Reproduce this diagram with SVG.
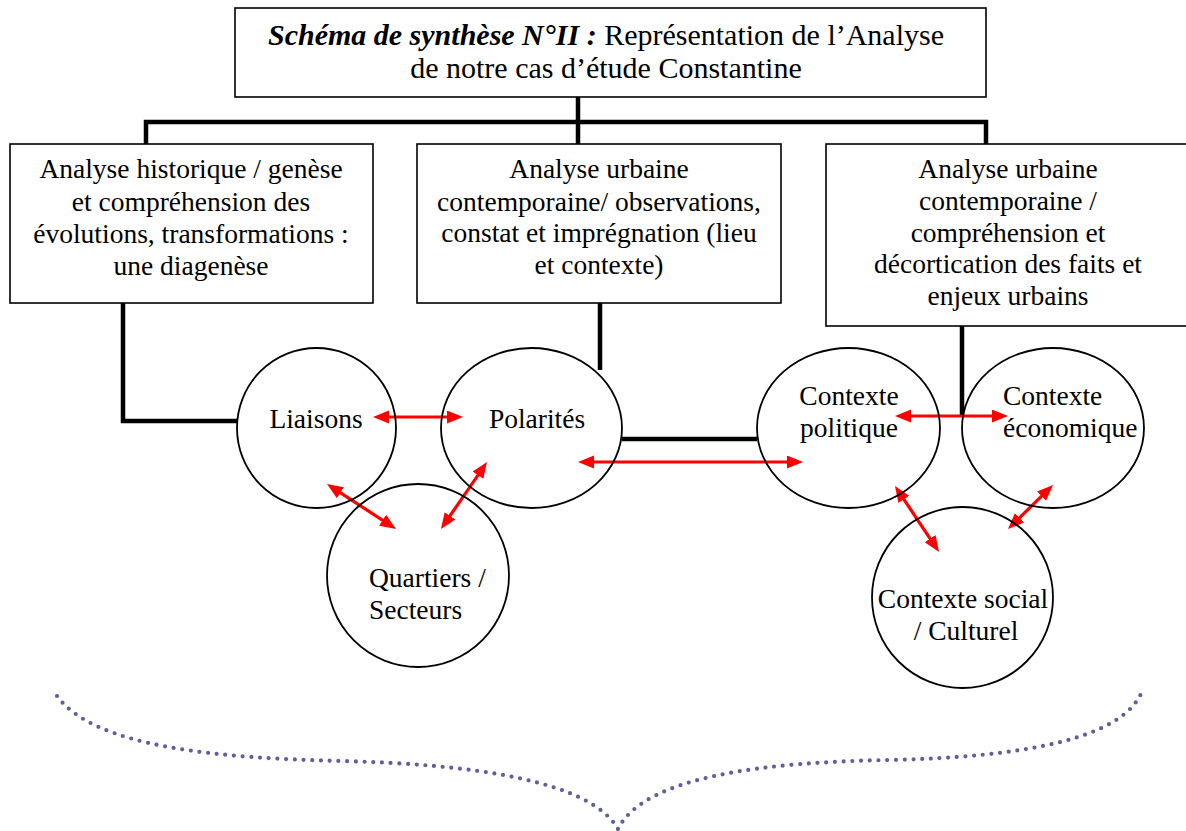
<svg xmlns="http://www.w3.org/2000/svg" width="1186" height="831" viewBox="0 0 1186 831">
  <style>
    text { font-family: "Liberation Serif", "Times New Roman", serif; fill: #000; }
    .t { font-size: 30px; }
    .b { font-size: 27.5px; text-anchor: middle; }
    .c { font-size: 27.5px; }
    .mid { text-anchor: middle; }
    .box { fill: #fff; stroke: #000; stroke-width: 1.6; }
    .node { fill: none; stroke: #000; stroke-width: 1.8; }
    .link { fill: none; stroke: #000; stroke-width: 4.5; stroke-linecap: butt; stroke-linejoin: miter; }
    .rel { stroke: #ff0000; stroke-width: 3.2; marker-start: url(#tip); marker-end: url(#tip); }
    .brace { fill: none; stroke: #5f5f9c; stroke-width: 4.2; stroke-linecap: round; stroke-dasharray: 0 8.7; }
  </style>
  <defs>
    <marker id="tip" markerUnits="userSpaceOnUse" markerWidth="18" markerHeight="14" refX="8" refY="6.5" orient="auto-start-reverse">
      <path d="M0,0 L16,6.5 L0,13 z" fill="#ff0000"/>
    </marker>
  </defs>

  <!-- black structural connectors -->
  <g id="connectors">
    <path class="link" d="M578,97 V144"/>
    <path class="link" d="M146,144 V122 H986 V144"/>
    <path class="link" d="M123,303 V421 H237"/>
    <path class="link" d="M600,303 V370"/>
    <path class="link" d="M962,326 V415"/>
    <path class="link" d="M622,439 H757"/>

    <!-- red two-way relations -->
    <line class="rel" x1="381" y1="417" x2="455" y2="417"/>
    <line class="rel" x1="586" y1="462" x2="795" y2="462"/>
    <line class="rel" x1="333.7" y1="488.4" x2="389.3" y2="524.6"/>
    <line class="rel" x1="482.5" y1="468.6" x2="445.5" y2="522.4"/>
    <line class="rel" x1="903" y1="416" x2="1000" y2="416"/>
    <line class="rel" x1="899.4" y1="492.7" x2="934.6" y2="545.3"/>
    <line class="rel" x1="1047.3" y1="490.6" x2="1013.7" y2="523.4"/>
  </g>

  <!-- title -->
  <g id="title">
    <rect class="box" x="235" y="8" width="751" height="89"/>
    <text class="t mid" x="606" y="45"><tspan font-weight="bold" font-style="italic">Schéma de synthèse N°II :</tspan> Représentation de l’Analyse</text>
    <text class="t mid" x="606" y="78">de notre cas d’étude Constantine</text>
  </g>

  <g id="analyse-historique">
    <rect class="box" x="10" y="144" width="363" height="159"/>
    <text class="b" x="191" y="178">Analyse historique / genèse</text>
    <text class="b" x="191" y="211">et compréhension des</text>
    <text class="b" x="191" y="243">évolutions, transformations :</text>
    <text class="b" x="191" y="275">une diagenèse</text>
  </g>

  <g id="analyse-observation">
    <rect class="box" x="417" y="144" width="364" height="159"/>
    <text class="b" x="599" y="178">Analyse urbaine</text>
    <text class="b" x="599" y="211">contemporaine/ observations,</text>
    <text class="b" x="599" y="242">constat et imprégnation (lieu</text>
    <text class="b" x="599" y="274">et contexte)</text>
  </g>

  <g id="analyse-comprehension">
    <rect class="box" x="826" y="144" width="364" height="182"/>
    <text class="b" x="1008" y="178">Analyse urbaine</text>
    <text class="b" x="1008" y="210">contemporaine /</text>
    <text class="b" x="1008" y="242">compréhension et</text>
    <text class="b" x="1008" y="273">décortication des faits et</text>
    <text class="b" x="1008" y="305">enjeux urbains</text>
  </g>

  <g id="liaisons">
    <ellipse class="node" cx="316.5" cy="428" rx="79.5" ry="80"/>
    <text class="c mid" x="316" y="428">Liaisons</text>
  </g>

  <g id="polarites">
    <ellipse class="node" cx="531.5" cy="428" rx="90.5" ry="80"/>
    <text class="c mid" x="537" y="428">Polarités</text>
  </g>

  <g id="quartiers">
    <ellipse class="node" cx="418" cy="575.5" rx="91" ry="91.5"/>
    <text class="c" x="369" y="587">Quartiers /</text>
    <text class="c" x="369" y="619">Secteurs</text>
  </g>

  <g id="contexte-politique">
    <ellipse class="node" cx="848.5" cy="428" rx="91.5" ry="80"/>
    <text class="c mid" x="849" y="405">Contexte</text>
    <text class="c mid" x="849" y="437">politique</text>
  </g>

  <g id="contexte-economique">
    <ellipse class="node" cx="1053" cy="428" rx="91" ry="80"/>
    <text class="c" x="1003" y="405">Contexte</text>
    <text class="c" x="1003" y="437">économique</text>
  </g>

  <g id="contexte-social">
    <ellipse class="node" cx="962.5" cy="597.5" rx="90.5" ry="90.5"/>
    <text class="c mid" x="963" y="608">Contexte social</text>
    <text class="c mid" x="966" y="640">/ Culturel</text>
  </g>

  <!-- dotted curly brace gathering the analyses -->
  <path class="brace" d="M57,696 C95,748 220,758 340,761 C470,764 590,780 618,829 C645,775 770,762 890,760 C1020,757 1125,740 1143,689"/>
</svg>
